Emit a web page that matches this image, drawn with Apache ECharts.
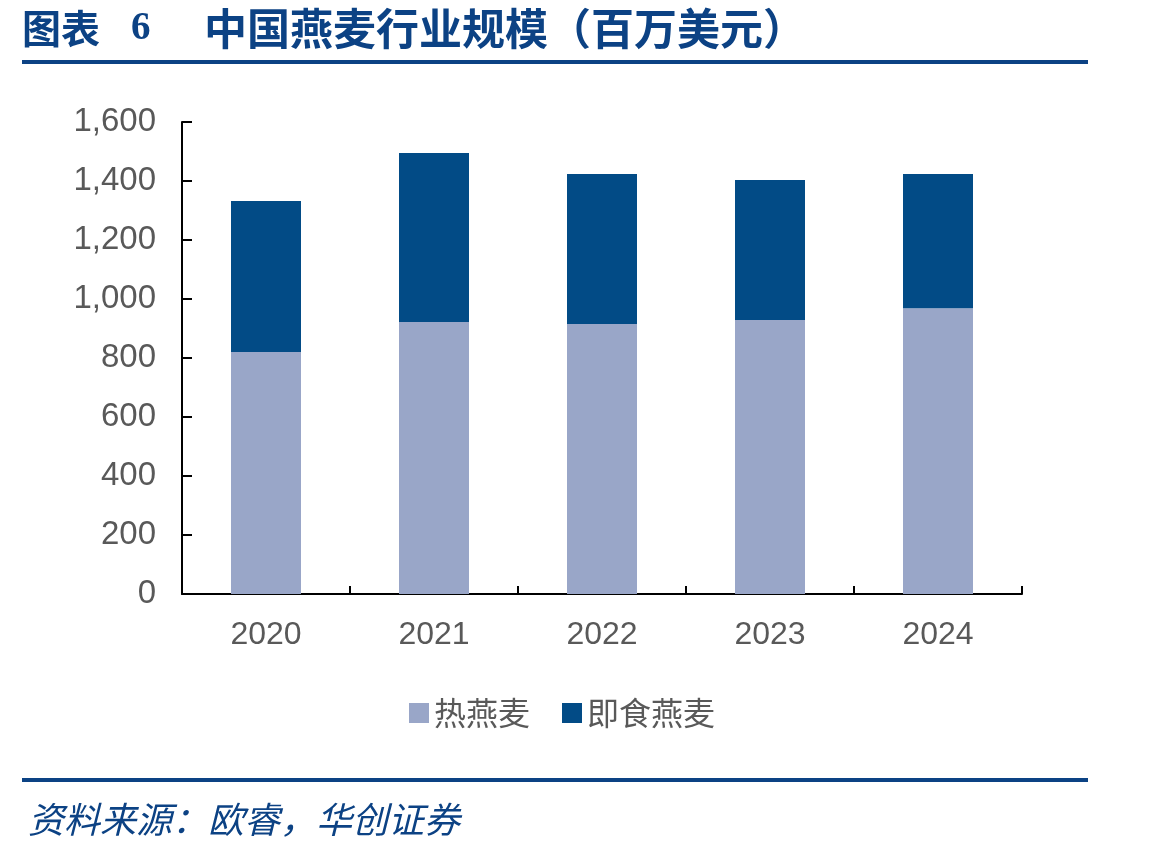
<!DOCTYPE html>
<html lang="zh">
  <head>
    <meta charset="UTF-8" />
    <title>中国燕麦行业规模</title>
    <style>
      html, body { margin: 0; padding: 0; background: #fff; }
      #chart { width: 1149px; height: 857px; }
    </style>
  </head>
  <body>
    <div id="chart"></div>
    <script src="https://cdn.jsdelivr.net/npm/echarts@6/dist/echarts.min.js"></script>
    <script>
      // 数据（百万美元）
      var years = ['2020', '2021', '2022', '2023', '2024'];
      var hotOats = [820, 922, 915, 929, 969];     // 热燕麦
      var readyOats = [512, 573, 509, 474, 455];   // 即食燕麦

      var blue = '#0c4284';
      var myChart = echarts.init(document.getElementById('chart'));

      var option = {
        backgroundColor: '#fff',
        animation: false,
        graphic: [
          // 标题
          {
            type: 'text', left: 22, top: 9,
            style: { text: '图表', font: 'bold 39px "Noto Sans CJK SC"', fill: blue }
          },
          {
            type: 'text', left: 131, top: 9,
            style: { text: '6', font: 'bold 39px "Liberation Serif"', fill: blue }
          },
          {
            type: 'text', left: 204, top: 7,
            style: { text: '中国燕麦行业规模（百万美元）', font: 'bold 43px "Noto Sans CJK SC"', fill: blue }
          },
          { type: 'rect', shape: { x: 22, y: 60, width: 1066, height: 4 }, style: { fill: blue } },
          { type: 'rect', shape: { x: 22, y: 778, width: 1066, height: 4 }, style: { fill: blue } },
          // 资料来源
          {
            type: 'text', left: 28, top: 801,
            style: {
              text: '资料来源：欧睿，华创证券',
              font: 'italic 36px "Noto Sans CJK SC"',
              fill: blue
            }
          }
        ],
        legend: {
          top: 692,
          left: 404,
          itemWidth: 20,
          itemHeight: 20,
          itemGap: 32,
          icon: 'rect',
          textStyle: { fontFamily: 'Noto Sans CJK SC', fontSize: 32, color: '#595959' },
          data: ['热燕麦', '即食燕麦']
        },
        grid: { left: 182, right: 127, top: 122, bottom: 263 },
        xAxis: {
          type: 'category',
          data: years,
          axisLine: { lineStyle: { color: '#000', width: 2 } },
          axisTick: { show: true, inside: true, length: 8, lineStyle: { color: '#000', width: 2 } },
          axisLabel: { margin: 25, fontFamily: 'Liberation Sans', fontSize: 32, color: '#595959' }
        },
        yAxis: {
          type: 'value',
          min: 0,
          max: 1600,
          interval: 200,
          splitLine: { show: false },
          axisLine: { show: true, lineStyle: { color: '#000', width: 2 } },
          axisTick: { show: true, inside: true, length: 10, lineStyle: { color: '#000', width: 2 } },
          axisLabel: {
            margin: 26,
            fontFamily: 'Liberation Sans',
            fontSize: 33,
            color: '#595959',
            formatter: function (v) { return v.toLocaleString('en-US'); }
          }
        },
        series: [
          {
            name: '热燕麦',
            type: 'bar',
            stack: 'total',
            barWidth: 70,
            itemStyle: { color: '#99a6c8' },
            data: hotOats
          },
          {
            name: '即食燕麦',
            type: 'bar',
            stack: 'total',
            barWidth: 70,
            itemStyle: { color: '#024b86' },
            data: readyOats
          }
        ]
      };

      myChart.setOption(option);
    </script>
  </body>
</html>
